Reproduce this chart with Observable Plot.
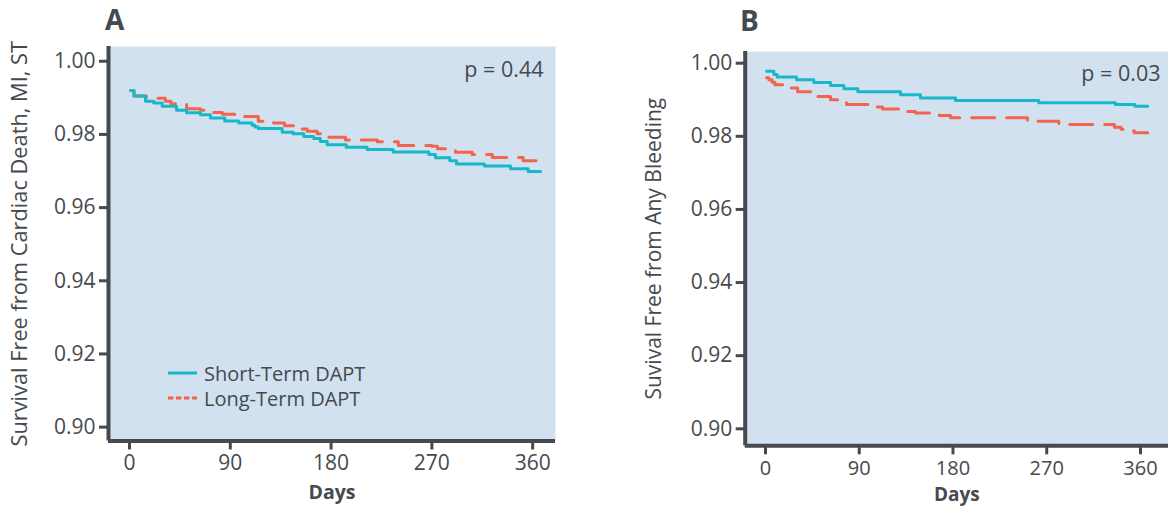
<!DOCTYPE html>
<html>
<head>
<meta charset="utf-8">
<script src="https://cdn.jsdelivr.net/npm/d3@7"></script>
<script src="https://cdn.jsdelivr.net/npm/@observablehq/plot@0.6"></script>
<style>
html,body{margin:0;padding:0;background:#fff;}
#chart{position:relative;width:1168px;height:506px;overflow:hidden;}
#chart > .panel{position:absolute;top:0;}
#chart svg{display:block;}
#overlay{position:absolute;left:0;top:0;pointer-events:none;}
</style>
</head>
<body>
<div id="chart">
  <div class="panel" id="pa" style="left:0"></div>
  <div class="panel" id="pb" style="left:584px"></div>
</div>
<script>
// ---------- data ----------
const panelLetters = ["A", "B"];
const seriesNames = ["Short-Term DAPT", "Long-Term DAPT"];
const pValues = ["p = 0.44", "p = 0.03"];
const yLabels = ["Survival Free from Cardiac Death, MI, ST", "Suvival Free from Any Bleeding"];
const xLabel = "Days";
const daysTicks = [0, 90, 180, 270, 360];
const survTicks = [0.90, 0.92, 0.94, 0.96, 0.98, 1.00];

// Panel A (step-after: value holds from this day onward)
const aShortDays = [1, 4, 14.3, 21.7, 29.2, 42, 50.9, 63.4, 72.3, 85.1, 97.6, 109.5, 112, 115, 136.3, 146.1, 155.7, 164.6, 170.5, 176.5, 193.5, 212.2, 235.4, 267.3, 273.2, 286, 292, 317, 340.2, 356, 367];
const aShortSurv = [0.9920, 0.9905, 0.9891, 0.9886, 0.9877, 0.9866, 0.9859, 0.9854, 0.9845, 0.9837, 0.9831, 0.9825, 0.9820, 0.9816, 0.9806, 0.9802, 0.9794, 0.9789, 0.9781, 0.9772, 0.9765, 0.9759, 0.9752, 0.9745, 0.9736, 0.9728, 0.9719, 0.9714, 0.9706, 0.9699, 0.9699];
const aLongDays = [1, 4, 15, 32, 37, 51, 63.4, 70.8, 83, 100.7, 115, 128.8, 138.4, 146.4, 158.6, 167.6, 176, 192.9, 221.2, 240, 270.1, 275, 291.1, 306, 324, 351.5, 363];
const aLongSurv = [0.9920, 0.9905, 0.9899, 0.9891, 0.9884, 0.9870, 0.9866, 0.9860, 0.9855, 0.9849, 0.9836, 0.9831, 0.9824, 0.9815, 0.9809, 0.9802, 0.9792, 0.9785, 0.9780, 0.9770, 0.9768, 0.9761, 0.9751, 0.9745, 0.9737, 0.9728, 0.9728];

// Panel B
const bShortDays = [1, 8, 11.2, 29.8, 46.4, 62.4, 75.2, 88.6, 129.6, 148.8, 182.4, 262.4, 336, 354.5, 367];
const bShortSurv = [0.9978, 0.9969, 0.9962, 0.9955, 0.9947, 0.9939, 0.9930, 0.9922, 0.9914, 0.9905, 0.9898, 0.9892, 0.9887, 0.9882, 0.9882];
const bLongDays = [1, 3.2, 6.4, 9, 19, 30.8, 48, 62.4, 77.8, 105.6, 112.3, 128.9, 144, 166.9, 177.6, 251.5, 281.6, 287, 335, 341.4, 347.8, 354, 367];
const bLongSurv = [0.9960, 0.9955, 0.9948, 0.9941, 0.9932, 0.9922, 0.9909, 0.9900, 0.9887, 0.9880, 0.9875, 0.9868, 0.9864, 0.9857, 0.9851, 0.9841, 0.9835, 0.9832, 0.9825, 0.9819, 0.9815, 0.9810, 0.9810];

// ---------- style ----------
const TEAL = "#19b8c8";
const ORANGE = "#f0654b";
const BG = "#d1e1f0";
const INK = "#46494e";
const FONT = '"Open Sans", sans-serif';

const rows = (days, surv) => days.map((d, i) => ({day: d, surv: surv[i]}));

function panel({shortRows, longRows, xDomain, yDomain, margins, yLabel, yLabelOffset, yLabelSize, pValue, pDx, pDy, xTickPad, xTickSize, xLabelDy, xLabelSize}) {
  return Plot.plot({
    width: 584,
    height: 506,
    marginLeft: margins[0], marginRight: margins[1], marginTop: margins[2], marginBottom: margins[3],
    x: {domain: xDomain},
    y: {domain: yDomain},
    style: {fontFamily: FONT, color: INK, background: "transparent", overflow: "visible"},
    marks: [
      Plot.frame({fill: BG, stroke: "none"}),
      Plot.line(longRows, {x: "day", y: "surv", curve: "step-after", stroke: ORANGE, strokeWidth: 3, strokeDasharray: "23,12"}),
      Plot.line(shortRows, {x: "day", y: "surv", curve: "step-after", stroke: TEAL, strokeWidth: 3}),
      Plot.ruleX([xDomain[0]], {stroke: INK, strokeWidth: 4}),
      Plot.ruleY([yDomain[0]], {stroke: INK, strokeWidth: 4}),
      Plot.axisX({ticks: daysTicks, tickSize: 9, tickPadding: xTickPad, strokeWidth: 3, fontSize: xTickSize, label: null}),
      Plot.axisY({ticks: survTicks, tickFormat: d3.format(".2f"), tickSize: 9, tickPadding: 4, strokeWidth: 3, fontSize: 21, label: null}),
      Plot.text([xLabel], {frameAnchor: "bottom", dy: xLabelDy, lineAnchor: "bottom", fontSize: xLabelSize, fontWeight: 700, fill: INK}),
      Plot.text([yLabel], {frameAnchor: "left", rotate: -90, dx: -yLabelOffset, lineAnchor: "top", textAnchor: "middle", fontSize: yLabelSize, fontWeight: 500, fill: INK}),
      Plot.text([pValue], {frameAnchor: "top-right", dx: pDx, dy: pDy, lineAnchor: "top", textAnchor: "end", fontSize: 21.5, fill: INK})
    ]
  });
}

document.getElementById("pa").appendChild(panel({
  shortRows: rows(aShortDays, aShortSurv),
  longRows: rows(aLongDays, aLongSurv),
  xDomain: [-18.75, 380.4],
  yDomain: [0.89621, 1.00403],
  margins: [108, 29, 46, 65.5],
  yLabel: yLabels[0], yLabelOffset: 97, yLabelSize: 21.8,
  pValue: pValues[0], pDx: -12, pDy: 15,
  xTickPad: 5.5, xTickSize: 21, xLabelDy: 58, xLabelSize: 19.5
}));

document.getElementById("pb").appendChild(panel({
  shortRows: rows(bShortDays, bShortSurv),
  longRows: rows(bLongDays, bLongSurv),
  xDomain: [-19.5, 386.9],
  yDomain: [0.89535, 1.0032],
  margins: [160.7, 0, 51, 60.7],
  yLabel: yLabels[1], yLabelOffset: 99, yLabelSize: 21,
  pValue: pValues[1], pDx: -8, pDy: 14,
  xTickPad: 5.5, xTickSize: 20, xLabelDy: 55, xLabelSize: 19
}));

// ---------- panel letters and legend ----------
const ov = d3.select("#chart").append("svg").attr("id", "overlay")
  .attr("width", 1168).attr("height", 506)
  .style("font-family", FONT).style("fill", INK);

ov.selectAll("text.letter").data(panelLetters).join("text")
  .attr("class", "letter")
  .attr("x", (d, i) => i === 0 ? 105 : 740)
  .attr("y", (d, i) => i === 0 ? 30 : 31)
  .attr("font-size", 28).attr("font-weight", 700)
  .text(d => d);

const lg = ov.append("g");
const lgItems = lg.selectAll("g").data(seriesNames).join("g")
  .attr("transform", (d, i) => `translate(168,${373 + i * 25})`);
lgItems.append("line")
  .attr("x1", 0).attr("x2", 29).attr("y1", 0).attr("y2", 0)
  .attr("stroke", (d, i) => i === 0 ? TEAL : ORANGE)
  .attr("stroke-width", 3)
  .attr("stroke-dasharray", (d, i) => i === 0 ? null : "5.5,2.5");
lgItems.append("text")
  .attr("x", 36).attr("y", 8)
  .attr("font-size", 20)
  .text(d => d);
</script>
</body>
</html>
